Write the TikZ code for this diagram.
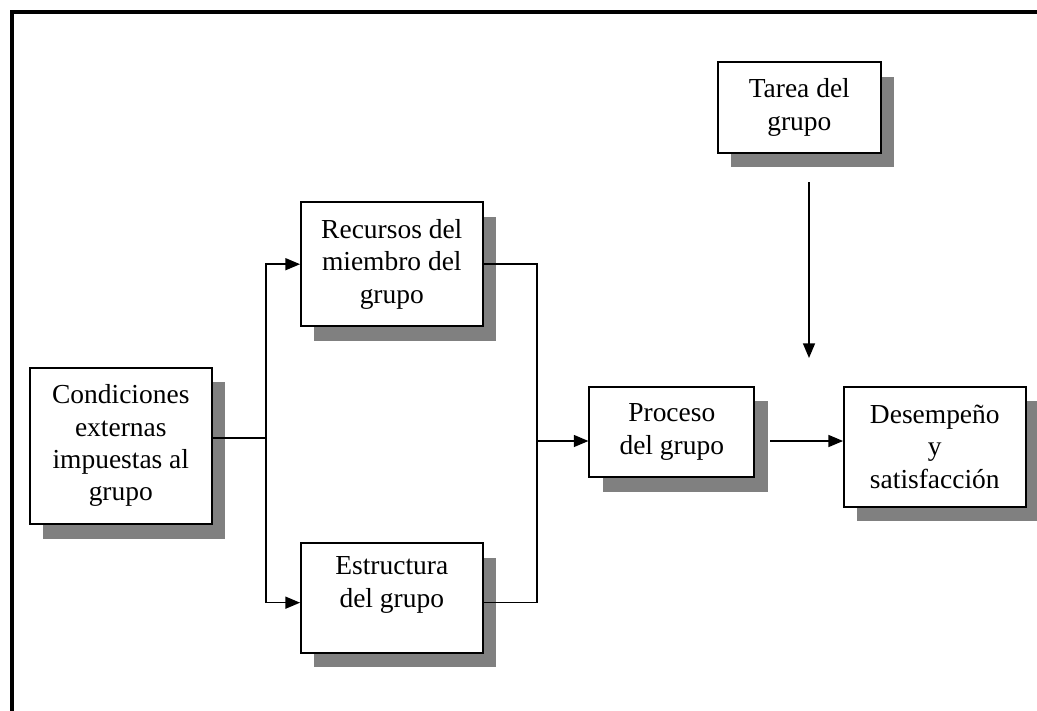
\documentclass[tikz,border=0pt]{standalone}
\usepackage{fontspec}
\setmainfont{Liberation Serif}
\usetikzlibrary{arrows.meta,shadows}
\begin{document}
\begin{tikzpicture}[x=0.75pt,y=-0.75pt,
  box/.style={draw, line width=1.3pt, fill=white, inner sep=0pt, align=center,
    font=\fontsize{20.6}{24.2}\selectfont,
    drop shadow={shadow xshift=10pt, shadow yshift=-11pt, opacity=1, fill=black!50}},
  link/.style={line width=1.1pt},
  flow/.style={link, -{Triangle[length=11pt,width=9pt]}},
  frame/.style={line width=3.4pt}]
\useasboundingbox (0,0) rectangle (1037,710);
% outer frame (top and left edges)
\draw[frame] (12,720) -- (12,12) -- (1045,12);

% blocks
\node[box, minimum width=136.3pt, minimum height=117.2pt] (cond) at (120.8,445.8)
  {Condiciones\\externas\\impuestas al\\grupo};
\node[box, minimum width=136.3pt, minimum height=92.8pt] (rec) at (391.8,264.2)
  {Recursos del\\miembro del\\grupo};
\node[box, minimum width=136.3pt, minimum height=82pt] (est) at (391.8,598)
  {Estructura\\del grupo\\\mbox{}};
\node[box, minimum width=123.75pt, minimum height=68pt] (proc) at (671.8,432)
  {Proceso\\del grupo};
\node[box, minimum width=122.5pt, minimum height=67.7pt] (task) at (799.3,107.5)
  {Tarea del\\grupo};
\node[box, minimum width=136.3pt, minimum height=90pt] (perf) at (934.8,446.7)
  {Desempeño\\y\\satisfacción};

% junction points
\coordinate (split) at (266,438);
\coordinate (merge) at (537,441);
\coordinate (procout) at (770,441);
\coordinate (taskout) at (809,182);
\coordinate (taskin) at (809,358);

% connectors
\draw[link] (cond.east |- split) -- (split);
\draw[flow] (split) |- (rec.west);
\draw[flow] (split) |- ([yshift=-3.5pt]est.west);
\draw[link] (rec.east) -| (merge);
\draw[link] ([yshift=-3.5pt]est.east) -| (merge);
\draw[flow] (merge) -- (merge -| proc.west);
\draw[flow] (procout) -- (procout -| perf.west);
\draw[flow] (taskout) -- (taskin);
\end{tikzpicture}
\end{document}
